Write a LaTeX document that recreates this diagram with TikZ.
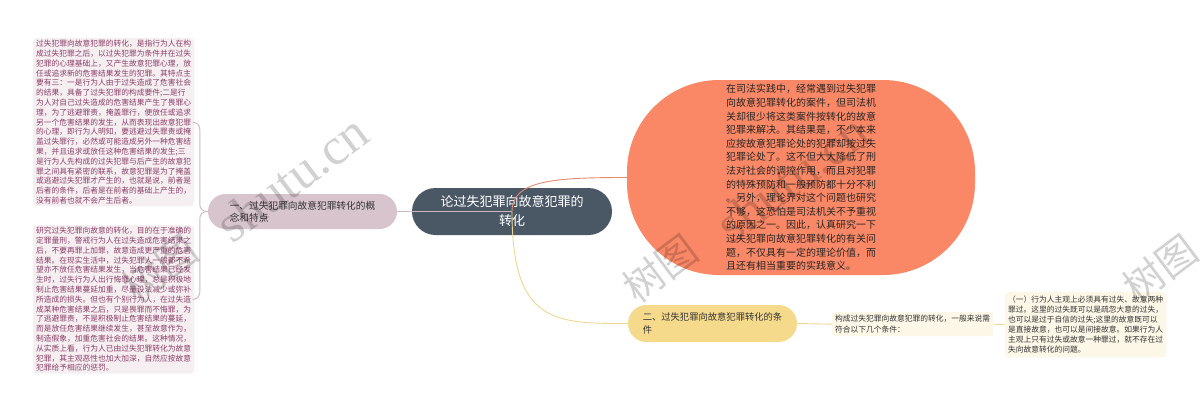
\documentclass[tikz,border=0pt]{standalone}
\usepackage{fontspec}
\setmainfont{Noto Sans CJK SC}
\newfontfamily\wmserif{Liberation Serif}
\definecolor{leafpink}{HTML}{F6EFF2}
\definecolor{leaftext}{HTML}{8A3F66}
\definecolor{nodepink}{HTML}{D8C4CC}
\definecolor{linepink}{HTML}{CDB9C2}
\definecolor{slate}{HTML}{4A5866}
\definecolor{coral}{HTML}{FA8866}
\definecolor{coralline}{HTML}{E48A6E}
\definecolor{gold}{HTML}{F6DA8C}
\definecolor{goldline}{HTML}{EBD895}
\definecolor{cream}{HTML}{FDF7E7}
\definecolor{darktext}{HTML}{333333}
\tikzset{
  leafL/.style={fill=leafpink, rounded corners=4pt, inner xsep=3pt, inner ysep=2pt, text=leaftext, align=left, anchor=north west, font=\fontsize{7.75}{9.8}\selectfont},
  leafR/.style={fill=cream, rounded corners=3pt, inner xsep=3pt, inner ysep=3pt, text=darktext, align=left, anchor=north west},
  pill/.style={inner sep=0pt, align=left},
  wmark/.style={text=black, opacity=0.18, inner sep=0pt, rotate=37},
  conn/.style={line width=0.9pt}
}
\begin{document}
\begin{tikzpicture}[x=1pt,y=-1pt]
\useasboundingbox (0,0) rectangle (1200,413);
\fill[white] (0,0) rectangle (1200,413);

% left leaves
\node[leafL] (a1) at (33,38) {过失犯罪向故意犯罪的转化，是指行为人在构\\成过失犯罪之后，以过失犯罪为条件并在过失\\犯罪的心理基础上，又产生故意犯罪心理，放\\任或追求新的危害结果发生的犯罪。其特点主\\要有三：一是行为人由于过失造成了危害社会\\的结果，具备了过失犯罪的构成要件;二是行\\为人对自己过失造成的危害结果产生了畏罪心\\理，为了逃避罪责，掩盖罪行，便放任或追求\\另一个危害结果的发生，从而表现出故意犯罪\\的心理，即行为人明知，要逃避过失罪责或掩\\盖过失罪行，必然或可能造成另外一种危害结\\果，并且追求或放任这种危害结果的发生;三\\是行为人先构成的过失犯罪与后产生的故意犯\\罪之间具有紧密的联系，故意犯罪是为了掩盖\\或逃避过失犯罪才产生的，也就是说，前者是\\后者的条件，后者是在前者的基础上产生的，\\没有前者也就不会产生后者。};
\node[leafL] (a2) at (33,225) {研究过失犯罪向故意的转化，目的在于准确的\\定罪量刑，警戒行为人在过失造成危害结果之\\后，不要再罪上加罪，故意造成更严重的危害\\结果。在现实生活中，过失犯罪人一般都不希\\望亦不放任危害结果发生，当危害结果已经发\\生时，过失行为人出行悔罪心理，总是积极地\\制止危害结果蔓延加重，尽量设法减少或弥补\\所造成的损失。但也有个别行为人，在过失造\\成某种危害结果之后，只是畏罪而不悔罪，为\\了逃避罪责，不是积极制止危害结果的蔓延，\\而是放任危害结果继续发生，甚至故意作为，\\制造假象，加重危害社会的结果。这种情况，\\从实质上看，行为人已由过失犯罪转化为故意\\犯罪，其主观恶性也加大加深，自然应按故意\\犯罪给予相应的惩罚。};

% main branches
\node[pill, fill=nodepink, text=darktext, minimum width=189pt, minimum height=35pt, rounded corners=17.5pt, font=\fontsize{9.7}{12}\selectfont] (n1) at (302.5,211.5) {一、过失犯罪向故意犯罪转化的概\\念和特点};
\node[pill, fill=slate, text=white, align=center, minimum width=200pt, minimum height=47pt, rounded corners=23.5pt, font=\fontsize{13}{19}\selectfont] (c) at (512,211.5) {论过失犯罪向故意犯罪的\\转化};
\node[pill, fill=coral, text=black!85, minimum width=348pt, minimum height=195pt, rounded corners=92pt, font=\fontsize{10}{13.6}\selectfont] (cor) at (801,177.5) {在司法实践中，经常遇到过失犯罪\\向故意犯罪转化的案件，但司法机\\关却很少将这类案件按转化的故意\\犯罪来解决。其结果是，不少本来\\应按故意犯罪论处的犯罪却按过失\\犯罪论处了。这不但大大降低了刑\\法对社会的调控作用，而且对犯罪\\的特殊预防和一般预防都十分不利\\。另外，理论界对这个问题也研究\\不够，这恐怕是司法机关不予重视\\的原因之一。因此，认真研究一下\\过失犯罪向故意犯罪转化的有关问\\题，不仅具有一定的理论价值，而\\且还有相当重要的实践意义。};
\node[pill, fill=gold, text=darktext, minimum width=169pt, minimum height=37pt, rounded corners=18.5pt, font=\fontsize{9.3}{13.4}\selectfont] (n2) at (712.5,323.5) {二、过失犯罪向故意犯罪转化的条\\件};

% right leaves
\node[leafR, font=\fontsize{7.75}{10.7}\selectfont] (m) at (832,312) {构成过失犯罪向故意犯罪的转化，一般来说需\\符合以下几个条件：};
\node[leafR, inner ysep=4pt, font=\fontsize{7.75}{10}\selectfont] (r) at (1005,292) {（一）行为人主观上必须具有过失、故意两种\\罪过。这里的过失既可以是疏忽大意的过失，\\也可以是过于自信的过失;这里的故意既可以\\是直接故意，也可以是间接故意。如果行为人\\主观上只有过失或故意一种罪过，就不存在过\\失向故意转化的问题。};

% connectors
\draw[conn, linepink, rounded corners=7pt] (n1.west) -- ++(-8,0) |- (a1.east);
\draw[conn, linepink, rounded corners=7pt] (n1.west) -- ++(-8,0) |- (a2.east);
\draw[conn, linepink] (n1.east) -- (c.center);
\draw[conn, coralline] (c.center) .. controls (512,180) and (555,177.5) .. (cor.west);
\draw[conn, goldline] (c.center) .. controls (512,323.5) and (555,323.5) .. (n2.west);
\draw[conn, goldline] (n2.east) -- (m.west);
\draw[conn, goldline] (m.east) -- (r.west);

% watermarks
\node[wmark, font=\fontsize{40}{40}\selectfont] (w1a) at (160,268) {树图};
\node[wmark, font=\wmserif\fontsize{52}{52}\selectfont] (w1b) at (292,178) {shutu.cn};
\node[wmark, font=\fontsize{40}{40}\selectfont] (w2a) at (660,268) {树图};
\node[wmark, font=\wmserif\fontsize{52}{52}\selectfont] (w2b) at (792,178) {shutu.cn};
\node[wmark, font=\fontsize{40}{40}\selectfont] (w3a) at (1160,268) {树图};
\end{tikzpicture}
\end{document}
